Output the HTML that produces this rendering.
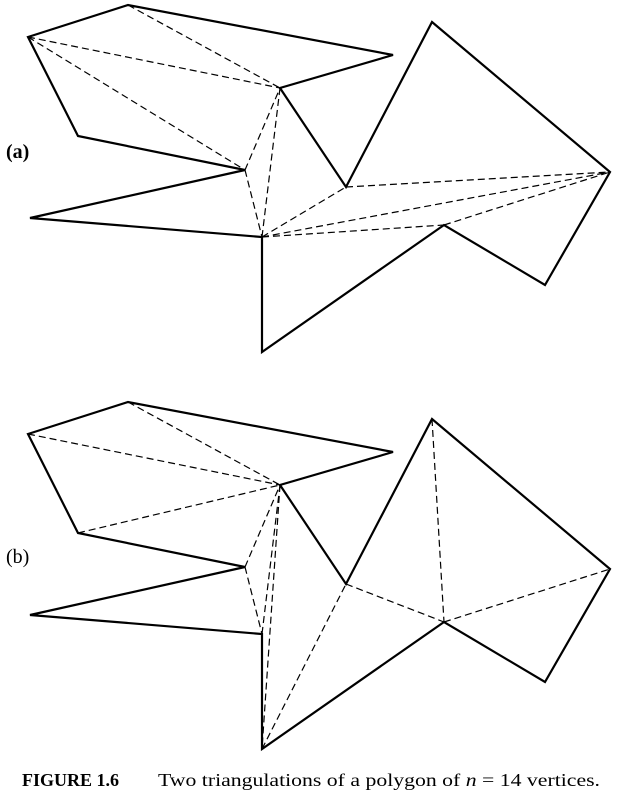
<!DOCTYPE html>
<html><head><meta charset="utf-8"><style>
html,body{margin:0;padding:0;background:#fff;}
svg{display:block}
</style></head><body>
<svg width="617" height="806" viewBox="0 0 617 806" xmlns="http://www.w3.org/2000/svg">
<g fill="none" stroke="#000" stroke-linejoin="miter">
<polygon stroke-width="2.2" points="28,37 128,5 393,55 280,88 346,187 432,22 610,172 545,285 444,225 262,352 262,237 30,218 245,170 78,136"/>
<g stroke-width="1.2" stroke-dasharray="7,4">
<line x1="28" y1="37" x2="280" y2="88"/>
<line x1="28" y1="37" x2="245" y2="170"/>
<line x1="128" y1="5" x2="280" y2="88"/>
<line x1="245" y1="170" x2="280" y2="88"/>
<line x1="262" y1="237" x2="280" y2="88"/>
<line x1="245" y1="170" x2="262" y2="237"/>
<line x1="262" y1="237" x2="346" y2="187"/>
<line x1="346" y1="187" x2="610" y2="172"/>
<line x1="262" y1="237" x2="610" y2="172"/>
<line x1="444" y1="225" x2="610" y2="172"/>
<line x1="262" y1="237" x2="444" y2="225"/>
</g>
<g transform="translate(0,397)">
<polygon stroke-width="2.2" points="28,37 128,5 393,55 280,88 346,187 432,22 610,172 545,285 444,225 262,352 262,237 30,218 245,170 78,136"/>
<g stroke-width="1.2" stroke-dasharray="7,4">
<line x1="28" y1="37" x2="280" y2="88"/>
<line x1="128" y1="5" x2="280" y2="88"/>
<line x1="78" y1="136" x2="280" y2="88"/>
<line x1="245" y1="170" x2="280" y2="88"/>
<line x1="245" y1="170" x2="262" y2="237"/>
<line x1="280" y1="88" x2="262" y2="237"/>
<line x1="280" y1="88" x2="262" y2="352"/>
<line x1="262" y1="352" x2="346" y2="187"/>
<line x1="346" y1="187" x2="444" y2="225"/>
<line x1="432" y1="22" x2="444" y2="225"/>
<line x1="444" y1="225" x2="610" y2="172"/>
</g>
</g>
</g>
<g font-family="Liberation Serif, serif" fill="#000">
<text x="6" y="158" font-size="20" font-weight="bold">(a)</text>
<text x="6" y="563" font-size="20">(b)</text>
<text x="22" y="786" font-size="18" font-weight="bold">FIGURE 1.6</text>
<text x="158" y="786" font-size="18" textLength="442" lengthAdjust="spacingAndGlyphs">Two triangulations of a polygon of <tspan font-style="italic">n</tspan> = 14 vertices.</text>
</g>
</svg>
</body></html>
